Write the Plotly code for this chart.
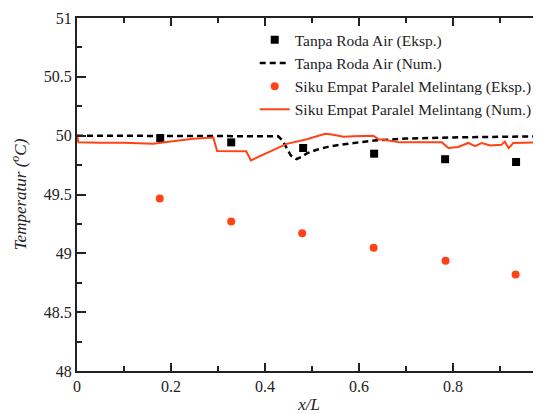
import plotly.graph_objects as go

# Tanpa Roda Air - experiment
x_tra_eksp = [0.177, 0.328, 0.481, 0.632, 0.783, 0.934]
y_tra_eksp = [49.98, 49.943, 49.895, 49.847, 49.80, 49.776]

# Tanpa Roda Air - numerical
x_tra_num = [0, 0.1, 0.2, 0.3, 0.4, 0.428, 0.437, 0.447, 0.455, 0.467, 0.478,
             0.489, 0.51, 0.538, 0.57, 0.602, 0.638, 0.7, 0.8, 0.9, 0.99]
y_tra_num = [50.0, 50.0, 50.0, 50.0, 50.0, 49.995, 49.96, 49.88, 49.83, 49.80,
             49.82, 49.85, 49.88, 49.91, 49.93, 49.945, 49.96, 49.975, 49.985,
             49.99, 49.995]

# Siku Empat Paralel Melintang - experiment
x_sep_eksp = [0.176, 0.328, 0.479, 0.631, 0.784, 0.933]
y_sep_eksp = [49.466, 49.27, 49.17, 49.047, 48.936, 48.82]

# Siku Empat Paralel Melintang - numerical
x_sep_num = [0, 0.003, 0.05, 0.1, 0.162, 0.177, 0.212, 0.247, 0.29, 0.298,
             0.33, 0.36, 0.37, 0.397, 0.425, 0.446, 0.489, 0.51, 0.528, 0.545,
             0.567, 0.588, 0.63, 0.641, 0.652, 0.687, 0.73, 0.776, 0.79, 0.811,
             0.832, 0.847, 0.861, 0.879, 0.903, 0.91, 0.918, 0.928, 0.95, 0.99]
y_sep_num = [50.01, 49.943, 49.94, 49.94, 49.932, 49.938, 49.957, 49.974,
             49.985, 49.87, 49.867, 49.867, 49.79, 49.84, 49.895, 49.93, 49.97,
             49.994, 50.017, 50.008, 49.99, 49.994, 50.0, 49.97, 49.966, 49.943,
             49.943, 49.943, 49.895, 49.904, 49.938, 49.91, 49.938, 49.917,
             49.923, 49.95, 49.895, 49.938, 49.94, 49.943]

red = "#ff4316"
serif = "Liberation Serif"

fig = go.Figure()
fig.add_trace(go.Scatter(
    x=x_tra_eksp, y=y_tra_eksp, mode="markers", name="Tanpa Roda Air (Eksp.)",
    marker=dict(symbol="square", size=8, color="black"),
))
fig.add_trace(go.Scatter(
    x=x_tra_num, y=y_tra_num, mode="lines", name="Tanpa Roda Air (Num.)",
    line=dict(color="black", width=2.5, dash="6px,4px"),
))
fig.add_trace(go.Scatter(
    x=x_sep_eksp, y=y_sep_eksp, mode="markers",
    name="Siku Empat Paralel Melintang (Eksp.)",
    marker=dict(symbol="circle", size=8, color=red),
))
fig.add_trace(go.Scatter(
    x=x_sep_num, y=y_sep_num, mode="lines",
    name="Siku Empat Paralel Melintang (Num.)",
    line=dict(color=red, width=2),
))

# page body has an 8px margin, so the figure is sized/offset to fill the window
fig.update_layout(
    width=533, height=406,
    margin=dict(l=69, r=0, t=10, b=43),
    plot_bgcolor="white", paper_bgcolor="white",
    font=dict(family=serif, size=16, color="#222"),
    showlegend=True,
    legend=dict(
        x=0.383, y=0.985, xanchor="left", yanchor="top",
        bgcolor="rgba(0,0,0,0)", font=dict(family=serif, size=15.5, color="#222"),
        itemwidth=30, tracegroupgap=0,
    ),
)
fig.update_xaxes(
    range=[0, 0.987], tickvals=[0, 0.2, 0.4, 0.6, 0.8],
    ticktext=["0", "0.2", "0.4", "0.6", "0.8"],
    ticks="inside", ticklen=8, tickwidth=1.5, tickcolor="#222",
    minor=dict(dtick=0.1, ticks="inside", ticklen=5, tickwidth=1.5, tickcolor="#222"),
    showline=True, linecolor="#222", linewidth=2, mirror="ticks",
    showgrid=False, zeroline=False,
    title=dict(text="<i>x/L</i>", standoff=6, font=dict(family=serif, size=17)),
)
fig.update_yaxes(
    range=[48, 51], tickvals=[48, 48.5, 49, 49.5, 50, 50.5, 51],
    ticktext=["48", "48.5", "49", "49.5", "50", "50.5", "51"],
    ticks="inside", ticklen=9, tickwidth=1.5, tickcolor="#222",
    minor=dict(dtick=0.25, ticks="inside", ticklen=5, tickwidth=1.5, tickcolor="#222"),
    showline=True, linecolor="#222", linewidth=2,
    showgrid=False, zeroline=False,
    title=dict(text="<i>Temperatur (<sup>o</sup>C)</i>", standoff=14,
               font=dict(family=serif, size=17)),
)

fig.write_html("out.html")
